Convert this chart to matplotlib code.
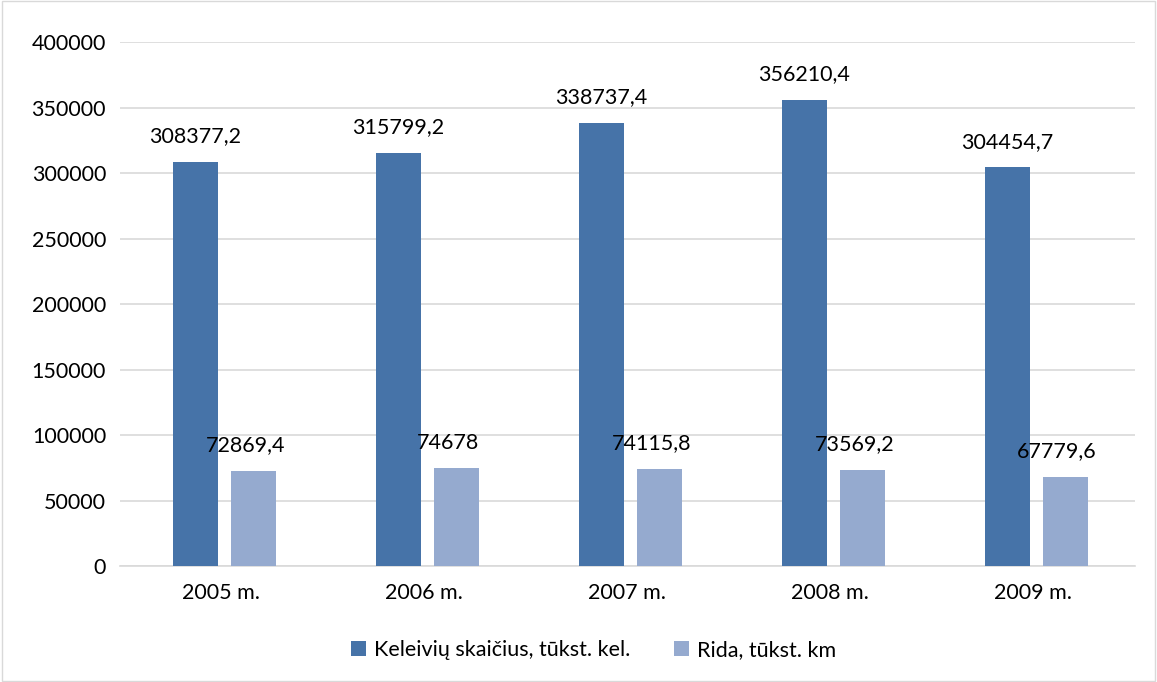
import matplotlib.pyplot as plt
import numpy as np

years = ["2005 m.", "2006 m.", "2007 m.", "2008 m.", "2009 m."]
passengers = [308377.2, 315799.2, 338737.4, 356210.4, 304454.7]
mileage = [72869.4, 74678, 74115.8, 73569.2, 67779.6]
passengers_lbl = ["308377,2", "315799,2", "338737,4", "356210,4", "304454,7"]
mileage_lbl = ["72869,4", "74678", "74115,8", "73569,2", "67779,6"]

plt.rcParams["font.family"] = ["Lato", "DejaVu Sans"]
fig = plt.figure(figsize=(11.57, 6.82), dpi=100)
ax = fig.add_axes([0.1037, 0.170, 0.877, 0.768])

x = np.arange(len(years))
w = 0.222
off1 = -0.128
off2 = 0.158
ax.bar(x + off1, passengers, w, color="#4673A8", label="Keleivių skaičius, tūkst. kel.", zorder=3)
ax.bar(x + off2, mileage, w, color="#95AACF", label="Rida, tūkst. km", zorder=3)

for xi, v, s in zip(x, passengers, passengers_lbl):
    ax.text(xi + off1, v + 12000, s, ha="center", va="bottom", fontsize=15.5, color="#000000")
for xi, v, s in zip(x, mileage, mileage_lbl):
    ax.text(xi + off2 - 0.04, v + 12000, s, ha="center", va="bottom", fontsize=15.5, color="#000000")

ax.set_xlim(-0.5, 4.5)
ax.set_ylim(0, 400000)
ax.set_yticks(range(0, 400001, 50000))
ax.set_xticks(x)
ax.set_xticklabels(years)
ax.tick_params(axis="both", length=0, labelsize=15.5, pad=12)
ax.tick_params(axis="y", pad=10)
ax.grid(axis="y", color="#D9D9D9", linewidth=1.2, zorder=0)
for s in ["top", "right", "left"]:
    ax.spines[s].set_visible(False)
ax.spines["bottom"].set_color("#D9D9D9")
ax.spines["bottom"].set_linewidth(1.2)

fig.legend(loc="center", bbox_to_anchor=(0.513, 0.047), ncol=2, frameon=False,
           fontsize=15.5, handlelength=0.7, handleheight=0.7, columnspacing=2, handletextpad=0.4)

fig.patches.append(plt.Rectangle((0.002, 0.002), 0.996, 0.996, transform=fig.transFigure,
                                 fill=False, edgecolor="#D9D9D9", linewidth=1))

plt.savefig("out.png", dpi=100)
